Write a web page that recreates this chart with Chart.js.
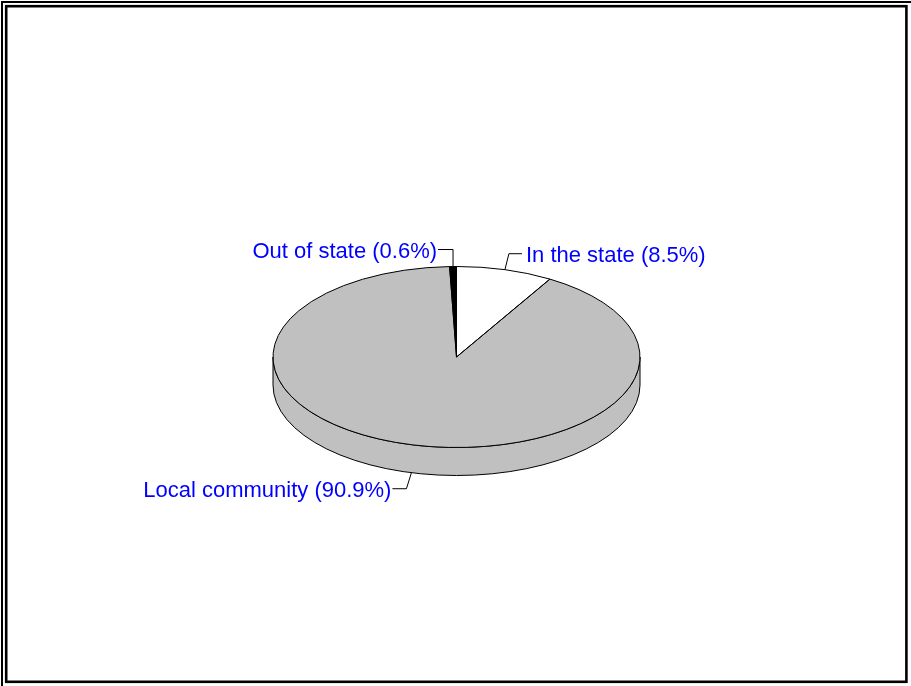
<!DOCTYPE html>
<html>
<head>
<meta charset="utf-8">
<script src="https://cdn.jsdelivr.net/npm/chart.js@4/dist/chart.umd.min.js"></script>
<style>
  html, body { margin: 0; padding: 0; background: #fff; }
  canvas { display: block; }
</style>
</head>
<body>
<canvas id="pie" width="911" height="686"></canvas>
<script>
// pie slices, clockwise from 12 o'clock
var labels = ["In the state", "Local community", "Out of state"];
var values = [8.5, 90.9, 0.6];
var colors = ["#FFFFFF", "#C0C0C0", "#000000"];

var tilt = 90.5 / 183.5;   // vertical squash of the disc
var depth = 28;            // thickness of the disc

// leader lines: elbow offset from the anchor and length of the flat part
var leaders = [
  { ex: 4, ey: -16, hx: 13 },
  { ex: -5, ey: 16, hx: -14 },
  { ex: 0, ey: -17, hx: -15 }
];

function sideRanges(s, e) {
  var out = [];
  for (var k = -1; k <= 1; k++) {
    var a = Math.max(s, 2 * Math.PI * k), b = Math.min(e, 2 * Math.PI * k + Math.PI);
    if (b > a) out.push([a, b]);
  }
  return out;
}

var pie3d = {
  id: "pie3d",
  beforeDraw: function(chart) {
    var ctx = chart.ctx;
    ctx.save();
    ctx.strokeStyle = "#000";
    ctx.lineWidth = 2;
    ctx.beginPath();
    ctx.moveTo(2, 700); ctx.lineTo(2, 2); ctx.lineTo(920, 2);
    ctx.stroke();
    ctx.lineWidth = 2.6;
    ctx.strokeRect(6.2, 6.2, 900.2, 675.6);
    ctx.restore();
  },
  beforeDatasetsDraw: function(chart) {
    var ctx = chart.ctx;
    var arcs = chart.getDatasetMeta(0).data;
    ctx.save();
    ctx.lineWidth = 1;
    ctx.strokeStyle = "#000";
    arcs.forEach(function(arc, i) {
      var p = arc.getProps(["x", "y", "startAngle", "endAngle", "outerRadius"], true);
      var r = p.outerRadius, ry = r * tilt;
      sideRanges(p.startAngle, p.endAngle).forEach(function(rg) {
        ctx.beginPath();
        ctx.ellipse(p.x, p.y, r, ry, 0, rg[0], rg[1]);
        ctx.ellipse(p.x, p.y + depth, r, ry, 0, rg[1], rg[0], true);
        ctx.closePath();
        ctx.fillStyle = colors[i];
        ctx.fill();
        ctx.stroke();
      });
    });
    ctx.restore();
    var a0 = arcs[0];
    ctx.save();
    ctx.translate(a0.x, a0.y);
    ctx.scale(1, tilt);
    ctx.translate(-a0.x, -a0.y);
  },
  afterDatasetsDraw: function(chart) {
    var ctx = chart.ctx;
    ctx.restore();
    var arcs = chart.getDatasetMeta(0).data;
    ctx.save();
    ctx.lineWidth = 1;
    ctx.strokeStyle = "#000";
    arcs.forEach(function(arc) {
      var p = arc.getProps(["x", "y", "startAngle", "endAngle", "outerRadius"], true);
      ctx.beginPath();
      ctx.moveTo(p.x, p.y);
      ctx.ellipse(p.x, p.y, p.outerRadius, p.outerRadius * tilt, 0, p.startAngle, p.endAngle);
      ctx.closePath();
      ctx.stroke();
    });
    // labels with leader lines
    ctx.font = "22px 'Liberation Sans', Arial, sans-serif";
    arcs.forEach(function(arc, i) {
      var p = arc.getProps(["x", "y", "startAngle", "endAngle", "outerRadius"], true);
      var mid = (p.startAngle + p.endAngle) / 2;
      var ax = p.x + p.outerRadius * Math.cos(mid);
      var ay = p.y + p.outerRadius * tilt * Math.sin(mid) + (Math.sin(mid) > 0 ? depth : 0);
      var L = leaders[i];
      var ex = ax + L.ex, ey = ay + L.ey, hx = ex + L.hx;
      ctx.strokeStyle = "#000";
      ctx.beginPath();
      ctx.moveTo(ax, ay); ctx.lineTo(ex, ey); ctx.lineTo(hx, ey);
      ctx.stroke();
      ctx.fillStyle = "#0000FF";
      ctx.textBaseline = "alphabetic";
      var txt = labels[i] + " (" + values[i] + "%)";
      if (L.hx > 0) {
        ctx.textAlign = "left";
        ctx.fillText(txt, hx + 4, ey + 8);
      } else {
        ctx.textAlign = "right";
        ctx.fillText(txt, hx - 1, ey + 8);
      }
    });
    ctx.restore();
  }
};

new Chart(document.getElementById("pie").getContext("2d"), {
  type: "pie",
  data: {
    labels: labels,
    datasets: [{
      data: values,
      backgroundColor: colors,
      borderWidth: 0,
      hoverOffset: 0
    }]
  },
  options: {
    responsive: false,
    animation: false,
    devicePixelRatio: 1,
    layout: { padding: { left: 273, right: 271, top: 173.5, bottom: 145.5 } },
    plugins: {
      legend: { display: false },
      tooltip: { enabled: false }
    }
  },
  plugins: [pie3d]
});
</script>
</body>
</html>
